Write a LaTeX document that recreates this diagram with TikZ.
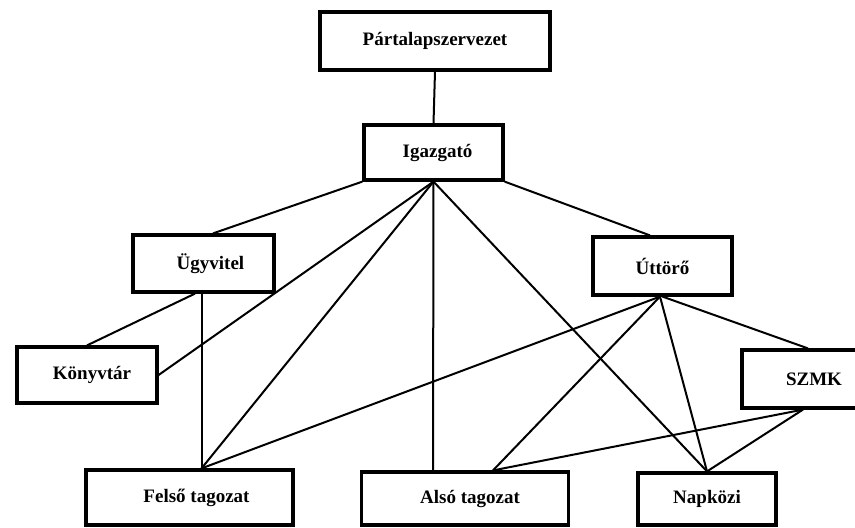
\documentclass[tikz,border=0pt]{standalone}
\usepackage{fontspec}
\setmainfont{Liberation Serif}
\begin{document}
\begin{tikzpicture}[x=1pt,y=-1pt,
  box/.style={draw, line width=3.2pt, fill=white, inner sep=0pt,
    font=\fontsize{19}{22}\selectfont\bfseries},
  conn/.style={line width=2pt}]
\useasboundingbox (0,0) rectangle (855,528);
\clip (0,0) rectangle (855,528);
\node[box, minimum width=230, minimum height=58] (P) at (435,41) {Pártalapszervezet};
\node[box, minimum width=139, minimum height=55] (I) at (433.5,152.5) {\hspace*{8pt}Igazgató};
\node[box, minimum width=141, minimum height=57] (U) at (203.5,263.5) {\hspace*{14pt}Ügyvitel};
\node[box, minimum width=140, minimum height=56] (K) at (87,375) {\hspace*{10pt}Könyvtár};
\node[box, minimum width=139, minimum height=58] (T) at (662.5,266) {Úttörő};
\node[box, minimum width=144, minimum height=58] (S) at (814,379) {SZMK};
\node[box, minimum width=207, minimum height=55] (F) at (189.5,497.5) {\hspace*{14pt}Felső tagozat};
\node[box, minimum width=207, minimum height=53] (A) at (465,498.5) {\hspace*{10pt}Alsó tagozat};
\node[box, minimum width=138, minimum height=52] (N) at (707,499) {Napközi};

\coordinate (Ftop) at ([xshift=12pt]F.north);
\coordinate (Atop1) at ([xshift=-32pt]A.north);
\coordinate (Atop2) at ([xshift=28pt]A.north);
\coordinate (Tbot) at ([xshift=-2.5pt]T.south);
\coordinate (Sbot) at ([xshift=-11pt]S.south);
\coordinate (Stop) at ([xshift=-6pt]S.north);
\coordinate (Utop) at ([xshift=9.5pt]U.north);
\coordinate (Ubot1) at ([xshift=-8.5pt]U.south);
\coordinate (Ubot2) at ([xshift=-2pt]U.south);
\coordinate (Ttop) at ([xshift=-12.5pt]T.north);

\draw[conn] (P.south) -- (I.north);
\draw[conn] (I.south west) -- (Utop);
\draw[conn] (I.south east) -- (Ttop);
\draw[conn] (I.south) -- (K.east);
\draw[conn] (I.south) -- (Ftop);
\draw[conn] (I.south) -- (Atop1);
\draw[conn] (I.south) -- (N.north);
\draw[conn] (Ubot1) -- (K.north);
\draw[conn] (Ubot2) -- (Ftop);
\draw[conn] (Tbot) -- (Ftop);
\draw[conn] (Tbot) -- (Atop2);
\draw[conn] (Tbot) -- (N.north);
\draw[conn] (T.south) -- (Stop);
\draw[conn] (Sbot) -- (Atop2);
\draw[conn] (Sbot) -- (N.north);
\end{tikzpicture}
\end{document}
